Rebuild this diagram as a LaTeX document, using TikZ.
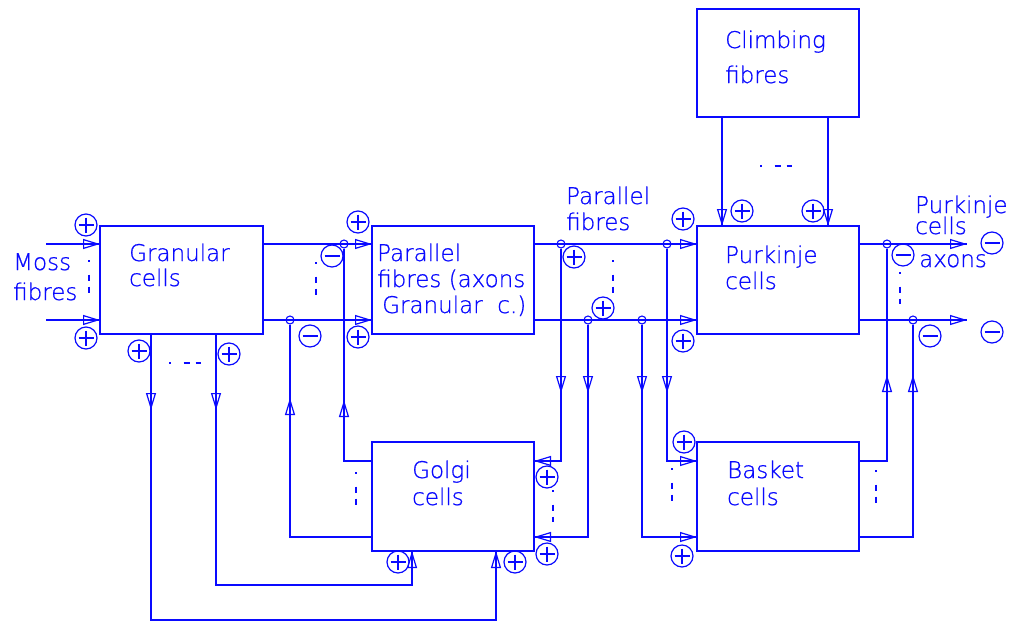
\documentclass[tikz,border=0pt]{standalone}
\usepackage{fontspec}
\setmainfont{DejaVu Sans ExtraLight}[FakeBold=0.8]
\usetikzlibrary{arrows.meta,calc}
\definecolor{cadblue}{RGB}{10,10,255}
\begin{document}
\begin{tikzpicture}[x=1pt,y=-1pt,
  ln/.style={draw=cadblue, line width=1.2pt},
  arr/.style={ln, postaction={draw=cadblue, line width=1.2pt, -{Triangle[open,length=17pt,width=10pt,line width=1.2pt]}}},
  cellbox/.style={draw=cadblue, line width=1.4pt, rectangle, inner sep=0pt, outer sep=0pt},
  lbl/.style={text=cadblue, font=\fontsize{23}{27}\selectfont, inner sep=0pt, anchor=base west},
  jn/.style={draw=cadblue, line width=1.1pt, circle, minimum size=8pt, inner sep=0pt},
  sgn/.style={draw=cadblue, line width=1.2pt, circle, minimum size=22pt, inner sep=0pt},
  sgnplus/.style={sgn, path picture={\draw[cadblue, line width=1.2pt] ($(path picture bounding box.center)+(-7.5,0)$) -- ++(15,0) ($(path picture bounding box.center)+(0,-7.5)$) -- ++(0,15);}},
  sgnminus/.style={sgn, path picture={\draw[cadblue,line width=1.2pt] ($(path picture bounding box.center)+(-7.5,0)$) -- ++(15,0);}},
  dotln/.style={draw=cadblue, line width=1.2pt, dash pattern=on 1.5pt off 13pt on 6pt off 6pt on 6pt off 300pt}
]
\useasboundingbox (0,0) rectangle (1012,622);

% boxes
\node[cellbox, minimum width=163pt, minimum height=108pt] (gran) at (181.5,280) {};
\node[cellbox, minimum width=162pt, minimum height=108pt] (par) at (453,280) {};
\node[cellbox, minimum width=162pt, minimum height=108pt] (purk) at (778,280) {};
\node[cellbox, minimum width=162pt, minimum height=108pt] (climb) at (778,63) {};
\node[cellbox, minimum width=162pt, minimum height=109pt] (golgi) at (453,496.5) {};
\node[cellbox, minimum width=162pt, minimum height=109pt] (basket) at (778,496.5) {};

% texts
\node[lbl] (tmoss1) at (13,270) {Moss};
\node[lbl] (tmoss2) at (13,300) {fibres};
\node[lbl] (tgran1) at (129,261) {Granular};
\node[lbl] (tgran2) at (129,286) {cells};
\node[lbl] (tpar1) at (377,261) {Parallel};
\node[lbl] (tpar2) at (377,287) {fibres (axons};
\node[lbl] (tpar3) at (382,313) {Granular\ \ c.)};
\node[lbl] (tpf1) at (566,204) {Parallel};
\node[lbl] (tpf2) at (566,230) {fibres};
\node[lbl] (tpurk1) at (725,263) {Purkinje};
\node[lbl] (tpurk2) at (725,289) {cells};
\node[lbl] (tpa1) at (915,213) {Purkinje};
\node[lbl] (tpa2) at (915,234) {cells};
\node[lbl] (tpa3) at (919,267) {axons};
\node[lbl] (tclimb1) at (725,48) {Climbing};
\node[lbl] (tclimb2) at (725,83) {fibres};
\node[lbl] (tgolgi1) at (412,478) {Golgi};
\node[lbl] (tgolgi2) at (412,505) {cells};
\node[lbl] (tbask1) at (727,478) {Basket};
\node[lbl] (tbask2) at (727,505) {cells};

% junctions
\node[jn] (j1) at (344,244) {};
\node[jn] (j2) at (290,320) {};
\node[jn] (j3) at (561,244) {};
\node[jn] (j4) at (667,244) {};
\node[jn] (j5) at (588,320) {};
\node[jn] (j6) at (642,320) {};
\node[jn] (j7) at (887,244) {};
\node[jn] (j8) at (913,320) {};

% helper coordinates
\coordinate (ya) at (0,461);
\coordinate (yb) at (0,537);
\coordinate (moss1) at (46,244);
\coordinate (moss2) at (46,320);
\coordinate (po1) at (967,244);
\coordinate (po2) at (967,320);
\coordinate (cx1) at (722,0);
\coordinate (cx2) at (828,0);
\coordinate (ga1) at (151,410);
\coordinate (ga2) at (216,410);
\coordinate (gb1) at (151,620);
\coordinate (gb2) at (496,620);
\coordinate (gc1) at (216,585);
\coordinate (gc2) at (412,585);
\coordinate (gl1) at (344,400);
\coordinate (gl2) at (290,398);
\coordinate (ga3) at (561,393);
\coordinate (ga5) at (588,393);
\coordinate (ga6) at (642,393);
\coordinate (ga4) at (667,393);
\coordinate (ba1) at (887,375);
\coordinate (ba2) at (913,375);

% main horizontal connectors
\draw[arr] (moss1) -- (moss1 -| gran.west);
\draw[arr] (moss2) -- (moss2 -| gran.west);
\draw[arr] (gran.east |- j1) -- (par.west |- j1);
\draw[arr] (gran.east |- j2) -- (par.west |- j2);
\draw[arr] (par.east |- j3) -- (purk.west |- j3);
\draw[arr] (par.east |- j5) -- (purk.west |- j5);
\draw[arr] (purk.east |- j7) -- (po1);
\draw[arr] (purk.east |- j8) -- (po2);

% climbing fibres
\draw[arr] (climb.south -| cx1) -- (purk.north -| cx1);
\draw[arr] (climb.south -| cx2) -- (purk.north -| cx2);

% granular -> golgi
\draw[arr] (gran.south -| ga1) -- (ga1);
\draw[arr] (ga1) -- (gb1) -- (gb2) -- (gb2 |- golgi.south);
\draw[arr] (gran.south -| ga2) -- (ga2);
\draw[arr] (ga2) -- (gc1) -- (gc2) -- (gc2 |- golgi.south);

% golgi -> granular outputs
\draw[arr] (golgi.west |- ya) -| (gl1);
\draw[ln] (gl1) -- (j1);
\draw[arr] (golgi.west |- yb) -| (gl2);
\draw[ln] (gl2) -- (j2);

% parallel fibres -> golgi
\draw[arr] (j3) -- (ga3);
\draw[arr] (ga3) |- (golgi.east |- ya);
\draw[arr] (j5) -- (ga5);
\draw[arr] (ga5) |- (golgi.east |- yb);

% parallel fibres -> basket
\draw[arr] (j6) -- (ga6);
\draw[arr] (ga6) |- (basket.west |- yb);
\draw[arr] (j4) -- (ga4);
\draw[arr] (ga4) |- (basket.west |- ya);

% basket -> purkinje axons
\draw[arr] (basket.east |- ya) -| (ba1);
\draw[ln] (ba1) -- (j7);
\draw[arr] (basket.east |- yb) -| (ba2);
\draw[ln] (ba2) -- (j8);

% signs
\foreach \n/\x/\y in {p1/86/225, p2/86/338, p3/358/222, p4/358/337, p5/574/257, p6/603/308,
  p7/683/219, p8/683/341, p9/742/211, p10/813/211, p11/139/351, p12/229/354,
  p13/398/562, p14/515/562, p15/547/477, p16/547/554, p17/684/442, p18/682/556}
  \node[sgnplus] (\n) at (\x,\y) {};
\foreach \n/\x/\y in {m1/332/256, m2/310/336, m3/903/255, m4/930/336, m5/992/243, m6/992/332}
  \node[sgnminus] (\n) at (\x,\y) {};

% dotted ellipses
\draw[dotln] (89,260) -- (89,298);
\draw[dotln] (316,262) -- (316,298);
\draw[dotln] (613,260) -- (613,296);
\draw[dotln] (900,272) -- (900,304);
\draw[dotln] (169,363) -- (201,363);
\draw[dotln] (760,166) -- (792,166);
\draw[dotln] (356,472) -- (356,508);
\draw[dotln] (553,490) -- (553,522);
\draw[dotln] (672,468) -- (672,503);
\draw[dotln] (876,470) -- (876,505);
\end{tikzpicture}
\end{document}
